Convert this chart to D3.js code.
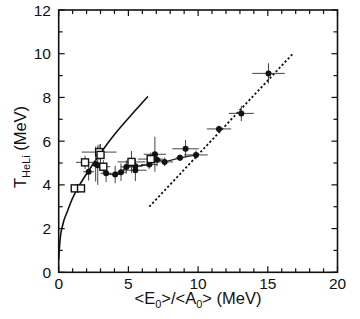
<!DOCTYPE html>
<html><head><meta charset="utf-8">
<script src="https://cdn.jsdelivr.net/npm/d3@7"></script>
<style>body{margin:0;background:#fff}svg{display:block}text{font-family:"Liberation Sans",Arial,sans-serif;fill:#111}</style>
</head><body>
<script>
// Open squares: x, y, x error, y error
const squareX  = [1.15, 1.6, 1.89, 2.9, 3.0, 3.2, 5.22, 6.6];
const squareY  = [3.84, 3.84, 5.03, 5.5, 5.37, 4.83, 5.05, 5.18];
const squareXE = [0.0, 0.0, 0.65, 1.25, 0.3, 0.5, 1.0, 0.9];
const squareYE = [0.1, 0.1, 0.3, 0.35, 0.5, 0.3, 0.5, 0.3];
// Filled circles
const dotX  = [2.15, 2.65, 2.8, 3.4, 4.05, 4.47, 4.85, 5.5, 5.5, 6.5, 6.9, 7.05, 7.6, 8.7, 9.1, 9.85, 11.5, 13.1, 15.05];
const dotY  = [4.6, 4.95, 4.9, 4.53, 4.47, 4.58, 4.82, 4.67, 4.85, 4.93, 5.4, 5.15, 5.05, 5.24, 5.65, 5.37, 6.56, 7.27, 9.1];
const dotXE = [0.4, 0.3, 0.3, 0.4, 0.5, 0.4, 0.4, 0.8, 0.5, 0.6, 0.8, 0.3, 0.6, 0.3, 0.95, 0.85, 0.87, 0.9, 1.17];
const dotYE = [0.4, 0.8, 0.9, 0.4, 0.4, 0.4, 0.3, 0.5, 0.3, 0.2, 0.8, 0.3, 0.2, 0.15, 0.4, 0.2, 0.15, 0.35, 0.46];
// thin line joining the plateau points
const plateauX = [3.4, 4.05, 4.47, 4.85, 5.5, 6.5, 7.05, 7.6, 8.7, 9.85];
const plateauY = [4.53, 4.47, 4.58, 4.82, 4.85, 4.93, 5.15, 5.05, 5.24, 5.37];
// Solid curve
const curveX = [0.0, 0.1, 0.3, 0.6, 1.0, 1.5, 2.25, 3.0, 4.0, 5.0, 6.4];
const curveY = [0.6, 1.5, 2.2, 2.75, 3.4, 4.0, 4.75, 5.45, 6.3, 7.05, 8.05];
// Dotted line
const dashX = [6.5, 16.8];
const dashY = [3.0, 10.0];
const xTicks = [0, 5, 10, 15, 20];
const yTicks = [0, 2, 4, 6, 8, 10, 12];

const W = 360, H = 319;
const L = 58.7, R = 337.5, T = 10, B = 272.3;
const svg = d3.select("body").append("svg").attr("width", W).attr("height", H);
const x = d3.scaleLinear().domain([0, 20]).range([L, R]);
const y = d3.scaleLinear().domain([0, 12]).range([B, T]);

// ticks: inward on all four sides
const g = svg.append("g");
const minorX = d3.range(0, 21, 1), minorY = d3.range(0, 13, 1);
minorX.forEach(v => {
  const len = v % 5 === 0 ? 6 : 4;
  g.append("line").attr("x1", x(v)).attr("x2", x(v)).attr("y1", B).attr("y2", B - len);
  g.append("line").attr("x1", x(v)).attr("x2", x(v)).attr("y1", T).attr("y2", T + len);
});
minorY.forEach(v => {
  const len = v % 2 === 0 ? 6 : 4;
  g.append("line").attr("y1", y(v)).attr("y2", y(v)).attr("x1", L).attr("x2", L + len);
  g.append("line").attr("y1", y(v)).attr("y2", y(v)).attr("x1", R).attr("x2", R - len);
});
g.selectAll("line").attr("stroke", "#111").attr("stroke-width", 1.2);
svg.append("rect").attr("x", L).attr("y", T).attr("width", R - L).attr("height", B - T)
  .attr("fill", "none").attr("stroke", "#111").attr("stroke-width", 1.6);

svg.selectAll(".xt").data(xTicks).join("text").attr("x", d => x(d)).attr("y", 289)
  .attr("text-anchor", "middle").attr("font-size", 15.5).text(d => d);
svg.selectAll(".yt").data(yTicks).join("text").attr("x", 51).attr("y", d => y(d) + 5.5)
  .attr("text-anchor", "end").attr("font-size", 15.5).text(d => d);

// axis titles
const xl = svg.append("text").attr("x", 198).attr("y", 304).attr("text-anchor", "middle").attr("font-size", 16.5);
xl.append("tspan").text("<E");
xl.append("tspan").attr("font-size", 11).attr("dy", 4).text("0");
xl.append("tspan").attr("dy", -4).text(">/<A");
xl.append("tspan").attr("font-size", 11).attr("dy", 4).text("0");
xl.append("tspan").attr("dy", -4).text("> (MeV)");
const yl = svg.append("text").attr("transform", "translate(26,147) rotate(-90)").attr("text-anchor", "middle").attr("font-size", 16.5);
yl.append("tspan").text("T");
yl.append("tspan").attr("font-size", 11).attr("dy", 4).text("HeLi");
yl.append("tspan").attr("dy", -4).text(" (MeV)");

// curves
const line = d3.line().x(d => x(d[0])).y(d => y(d[1]));
svg.append("path").datum(curveX.map((v, i) => [v, curveY[i]]))
  .attr("d", line.curve(d3.curveMonotoneX)).attr("fill", "none").attr("stroke", "#111").attr("stroke-width", 1.6);
svg.append("path").datum(dashX.map((v, i) => [v, dashY[i]]))
  .attr("d", d3.line().x(d => x(d[0])).y(d => y(d[1]))).attr("fill", "none").attr("stroke", "#111")
  .attr("stroke-width", 1.8).attr("stroke-dasharray", "2.2,2.2");
svg.append("path").datum(plateauX.map((v, i) => [v, plateauY[i]]))
  .attr("d", d3.line().x(d => x(d[0])).y(d => y(d[1]))).attr("fill", "none").attr("stroke", "#222").attr("stroke-width", 1.3);

// error bars
function errs(X, Y, XE, YE) {
  const eg = svg.append("g").attr("stroke", "#444").attr("stroke-width", 1);
  X.forEach((v, i) => {
    if (XE[i] > 0) eg.append("line").attr("x1", x(v - XE[i])).attr("x2", x(v + XE[i])).attr("y1", y(Y[i])).attr("y2", y(Y[i]));
    if (YE[i] > 0) eg.append("line").attr("x1", x(v)).attr("x2", x(v)).attr("y1", y(Y[i] - YE[i])).attr("y2", y(Y[i] + YE[i]));
  });
}
errs(dotX, dotY, dotXE, dotYE);
errs(squareX, squareY, squareXE, squareYE);

svg.selectAll(".dot").data(dotX.map((v, i) => [v, dotY[i]])).join("circle")
  .attr("cx", d => x(d[0])).attr("cy", d => y(d[1])).attr("r", 3).attr("fill", "#111");
svg.selectAll(".sq").data(squareX.map((v, i) => [v, squareY[i]])).join("rect")
  .attr("x", d => x(d[0]) - 3.5).attr("y", d => y(d[1]) - 3.5).attr("width", 7).attr("height", 7)
  .attr("fill", "#fff").attr("stroke", "#111").attr("stroke-width", 1.4);
</script>
</body></html>
